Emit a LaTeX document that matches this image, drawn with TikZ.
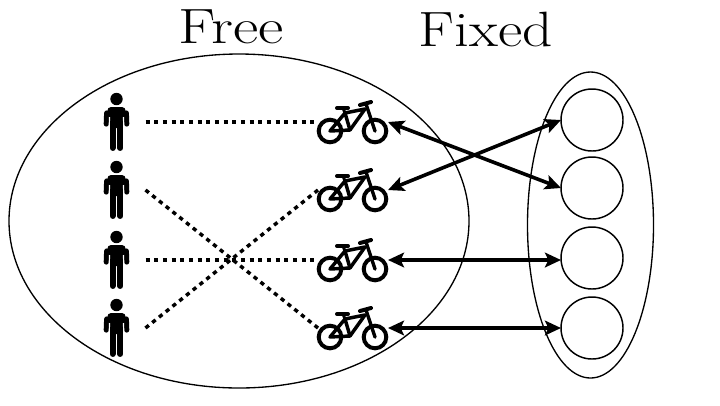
\documentclass[tikz,border=0pt]{standalone}
\usetikzlibrary{arrows.meta,shapes.geometric}
\tikzset{
  px/.style={x=0.75pt,y=-0.75pt},
  personbox/.style={minimum width=43.5pt,minimum height=45pt,inner sep=0pt,outer sep=0pt},
  bikebox/.style={minimum width=52.5pt,minimum height=30pt,inner sep=0pt,outer sep=0pt},
  seat/.style={circle,draw=black,line width=1.1pt,minimum size=46.5pt,inner sep=0pt,outer sep=0pt},
  region/.style={ellipse,draw=black,line width=1pt,inner sep=0pt,outer sep=0pt},
  title/.style={font=\fontsize{31}{36}\selectfont,inner sep=0pt,text=black},
  dotlink/.style={line width=2.6pt,dash pattern=on 3.2pt off 3.3pt},
  link/.style={line width=2.7pt,{Stealth[length=12pt,width=11pt,inset=2.5pt]}-{Stealth[length=12pt,width=11pt,inset=2.5pt]}},
  person/.pic={
    \fill (0,-23) circle[radius=6.2];
    \fill[rounded corners=3pt] (-8.5,-4) -- (-9.5,-15) -- (9.5,-15) -- (8.5,-4) -- (8,6) -- (-8,6) -- cycle;
    \draw[line width=3.9pt,line cap=round] (-9.8,-9) -- (-10.2,2);
    \draw[line width=3.9pt,line cap=round] (9.8,-9) -- (10.2,2);
    \draw[line width=4.4pt,line cap=round] (-3.9,4) -- (-3.9,26);
    \draw[line width=4.4pt,line cap=round] (3.9,4) -- (3.9,26);
    \draw[white,line width=0.9pt] (-7,-5) -- (-7.3,6);
    \draw[white,line width=0.9pt] (7,-5) -- (7.3,6);
  },
  bike/.pic={
    \draw[line width=3pt] (-23,9) circle[radius=11.3];
    \draw[line width=3pt] (22,9) circle[radius=11.3];
    \draw[line width=2.6pt,line join=round] (-23,9) -- (-8,-9) -- (-3,8) -- cycle;
    \draw[line width=2.6pt,line join=round] (-8,-9) -- (12,-13) -- (-3,8);
    \draw[line width=2.6pt,line cap=round] (22,9) -- (13,-18);
    \draw[line width=3pt,line cap=round] (7,-17) -- (18,-20);
    \draw[line width=3pt,line cap=round] (-16,-14) -- (-5,-14);
    \draw[line width=2.2pt] (-10,-14) -- (-8,-9);
  }
}
\begin{document}
\begin{tikzpicture}[px]
\useasboundingbox (0,0) rectangle (720,405);
\node[region,minimum width=345pt,minimum height=250.5pt] (free) at (239,221) {};
\node[region,minimum width=94.5pt,minimum height=229.5pt] (fixed) at (590.5,225) {};
\node[title] (tfree) at (231,27) {\scalebox{1.5}[1.2]{Free}};
\node[title] (tfixed) at (486,29) {\scalebox{1.44}[1.2]{Fixed}};
\foreach \n/\y in {1/122,2/190,3/260,4/328}{
  \node[personbox] (p\n) at (116.5,\y) {};
  \pic at (p\n.center) {person};
  \node[bikebox] (b\n) at (353,\y) {};
  \pic at (b\n.center) {bike};
}
\node[seat] (c1) at (592,120) {};
\node[seat] (c2) at (592,188) {};
\node[seat] (c3) at (592,258) {};
\node[seat] (c4) at (592,328) {};
\draw[dotlink] (p1.east) -- (b1.west);
\draw[dotlink] (p2.east) -- (b4.west);
\draw[dotlink] (p3.east) -- (b3.west);
\draw[dotlink] (p4.east) -- (b2.west);
\draw[link] (b1.east) -- (c2.west);
\draw[link] (b2.east) -- (c1.west);
\draw[link] (b3.east) -- (c3.west |- b3.east);
\draw[link] (b4.east) -- (c4.west |- b4.east);
\end{tikzpicture}
\end{document}
